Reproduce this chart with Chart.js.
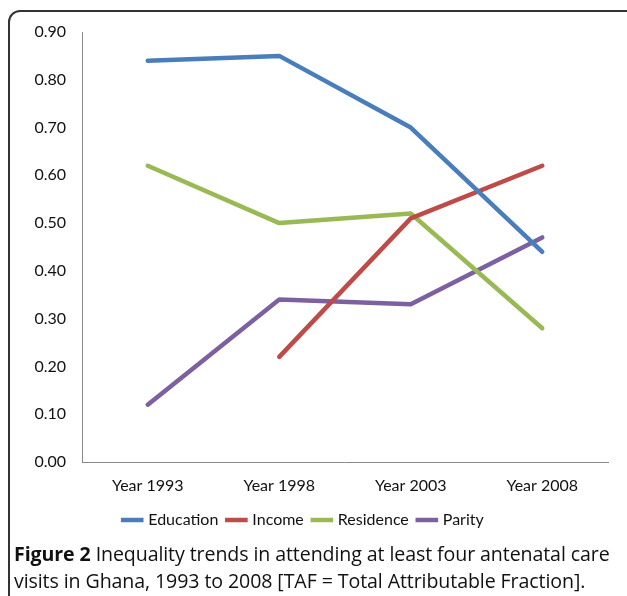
<!DOCTYPE html>
<html><head><meta charset="utf-8">
<script src="https://cdn.jsdelivr.net/npm/chart.js@4"></script>
<style>
html,body{margin:0;padding:0;background:#fff;width:627px;height:596px;overflow:hidden;}
#frame{position:absolute;left:8px;top:10px;width:640px;height:620px;border:2px solid #333;border-radius:12px 0 0 0;box-sizing:border-box;}
#wrap{position:absolute;left:0;top:0;width:627px;height:545px;}
#cap{position:absolute;left:14px;top:540px;width:615px;font-family:"Open Sans",sans-serif;font-size:19.6px;line-height:27px;color:#111;white-space:nowrap;letter-spacing:-0.1px;}
#cap b{font-weight:700;}
</style></head><body>
<div id="frame"></div>
<div id="wrap"><canvas id="c"></canvas></div>
<div id="cap"><b>Figure 2</b> Inequality trends in attending at least four antenatal care<br>visits in Ghana, 1993 to 2008 [TAF = Total Attributable Fraction].</div>
<script>
const categories = ["Year 1993","Year 1998","Year 2003","Year 2008"];
const education = [0.84, 0.85, 0.70, 0.44];
const income    = [null, 0.22, 0.51, 0.62];
const residence = [0.62, 0.50, 0.52, 0.28];
const parity    = [0.12, 0.34, 0.33, 0.47];
const yTicks = [0,0.1,0.2,0.3,0.4,0.5,0.6,0.7,0.8,0.9];

const FONT = "Lato";
function ds(label, data, color){
  return {label, data, borderColor:color, backgroundColor:color, borderWidth:4.5,
    pointRadius:0, pointHoverRadius:0, tension:0, spanGaps:false, borderCapStyle:'round', borderJoinStyle:'round'};
}
new Chart(document.getElementById('c'), {
  type:'line',
  data:{labels:categories, datasets:[
    ds("Education", education, "#4A7EBB"),
    ds("Income", income, "#BE4B48"),
    ds("Residence", residence, "#98B954"),
    ds("Parity", parity, "#7D60A0")
  ]},
  options:{
    responsive:true, maintainAspectRatio:false, animation:false,
    layout:{padding:{left:0,right:19,top:32,bottom:7}},
    plugins:{
      legend:{position:'bottom', labels:{usePointStyle:true, pointStyle:'line', boxWidth:28, padding:10, color:'#111', font:{family:FONT,size:16}}},
      tooltip:{enabled:false}
    },
    scales:{
      x:{offset:true, grid:{display:false, drawTicks:false}, border:{color:'#888',width:1},
         afterFit:(s)=>{s.height=40;},
         ticks:{color:'#111', padding:14, font:{family:FONT,size:16}}},
      y:{min:0,max:0.9, afterBuildTicks:(s)=>{s.ticks=yTicks.map(v=>({value:v}));},
         afterFit:(s)=>{s.width=82;},
         grid:{display:false, drawTicks:false}, border:{color:'#888',width:1},
         ticks:{color:'#111', padding:16, font:{family:FONT,size:16}, callback:(v)=>Number(v).toFixed(2)}}
    }
  }
});
</script>
</body></html>
